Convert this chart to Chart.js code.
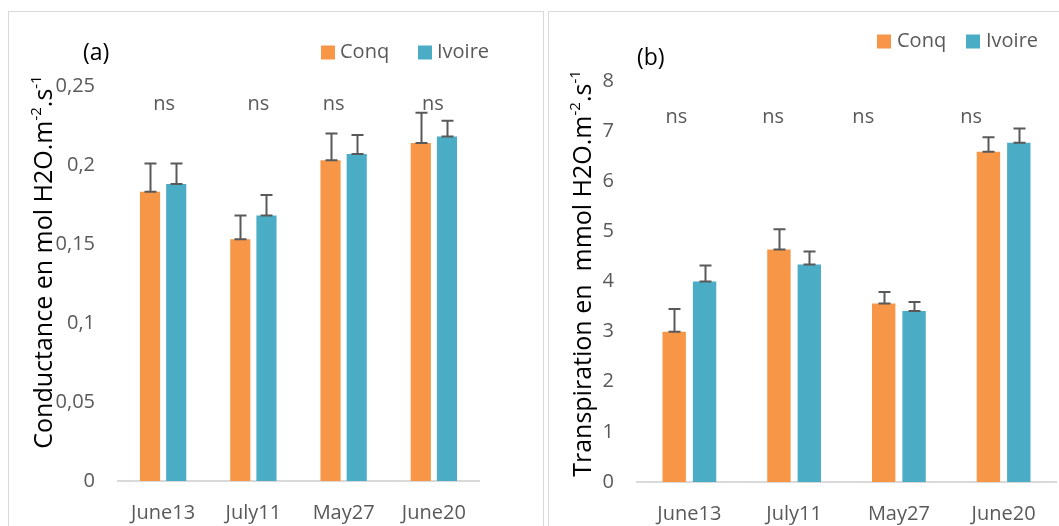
<!DOCTYPE html>
<html><head><meta charset="utf-8">
<script src="https://cdn.jsdelivr.net/npm/chart.js@4.4.1/dist/chart.umd.min.js"></script>
<style>
html,body{margin:0;padding:0;background:#fff;width:1059px;height:526px;overflow:hidden;}
#wrap{position:relative;width:1059px;height:526px;background:#fff;}
.panel{position:absolute;border:1px solid #d9d9d9;}
#pa{left:8px;top:11px;width:534px;height:600px;}
#pb{left:548px;top:11px;width:600px;height:600px;}
#ca{position:absolute;left:0;top:0;}
#cb{position:absolute;left:545px;top:0;}
</style></head><body>
<div id="wrap">
<div class="panel" id="pa"></div>
<div class="panel" id="pb"></div>
<canvas id="ca" width="545" height="526"></canvas>
<canvas id="cb" width="514" height="526"></canvas>
</div>
<script>
// ---- data ----
const categories = ['June13', 'July11', 'May27', 'June20'];
const seriesNames = ['Conq', 'Ivoire'];
const seriesColors = ['#F79646', '#4BACC6'];

const conductanceConq = [0.183, 0.153, 0.203, 0.214];
const conductanceIvoire = [0.188, 0.168, 0.207, 0.218];
const conductanceConqErr = [0.018, 0.015, 0.017, 0.019];
const conductanceIvoireErr = [0.013, 0.013, 0.012, 0.010];
const conductanceTicks = ['0', '0,05', '0,1', '0,15', '0,2', '0,25'];
const conductanceSignif = ['ns', 'ns', 'ns', 'ns'];

const transpirationConq = [3.00, 4.64, 3.56, 6.59];
const transpirationIvoire = [4.00, 4.34, 3.41, 6.77];
const transpirationConqErr = [0.45, 0.40, 0.23, 0.29];
const transpirationIvoireErr = [0.32, 0.26, 0.18, 0.28];
const transpirationTicks = ['0', '1', '2', '3', '4', '5', '6', '7', '8'];
const transpirationSignif = ['ns', 'ns', 'ns', 'ns'];

Chart.defaults.font.family = "'Open Sans', 'DejaVu Sans', sans-serif";
const GRAY = '#595959';

// ---- plugins ----
const decorPlugin = {
  id: 'decor',
  afterDatasetsDraw(chart, args, opts) {
    const ctx = chart.ctx;
    const ys = chart.scales.y;
    ctx.save();
    ctx.strokeStyle = GRAY;
    ctx.lineWidth = 2;
    chart.data.datasets.forEach((ds, i) => {
      const meta = chart.getDatasetMeta(i);
      meta.data.forEach((el, j) => {
        const v = ds.data[j], e = ds.errors[j];
        const y0 = ys.getPixelForValue(v), y1 = ys.getPixelForValue(v + e);
        const x = Math.round(el.x) + 0.5, hw = 6;
        ctx.beginPath();
        ctx.moveTo(x, y0); ctx.lineTo(x, y1);
        ctx.moveTo(x - hw, y1); ctx.lineTo(x + hw, y1);
        ctx.moveTo(x - hw, y0); ctx.lineTo(x + hw, y0);
        ctx.stroke();
      });
    });
    ctx.restore();
  },
  afterDraw(chart, args, opts) {
    const ctx = chart.ctx;
    const xs = chart.scales.x, ys = chart.scales.y;
    ctx.save();
    ctx.font = "20px 'Open Sans'";
    ctx.fillStyle = GRAY;
    ctx.textAlign = 'center';
    ctx.textBaseline = 'middle';
    const cw = xs.width / categories.length;
    opts.signif.forEach((s, j) => {
      const x = xs.getPixelForValue(j) + opts.signifOffset[j] * cw;
      ctx.fillText(s, x, ys.getPixelForValue(opts.signifY));
    });
    ctx.textAlign = 'left';
    chart.data.datasets.forEach((ds, i) => {
      const L = opts.legend[i];
      ctx.fillStyle = ds.backgroundColor;
      ctx.fillRect(L.sx, opts.legendY - 7, 14, 14);
      ctx.fillStyle = GRAY;
      ctx.fillText(ds.label, L.tx, opts.legendY);
    });
    ctx.fillStyle = '#000';
    ctx.font = "23px 'Open Sans'";
    ctx.fillText(opts.letter.text, opts.letter.x, opts.letter.y);
    ctx.translate(opts.ytitle.x, opts.ytitle.y);
    ctx.rotate(-Math.PI / 2);
    ctx.textBaseline = 'alphabetic';
    const big = "25px 'Open Sans'", small = "15px 'Open Sans'";
    let total = 0;
    opts.ytitle.parts.forEach(p => { ctx.font = p.sup ? small : big; total += ctx.measureText(p.t).width; });
    let cx = -total / 2;
    opts.ytitle.parts.forEach(p => {
      ctx.font = p.sup ? small : big;
      ctx.fillText(p.t, cx, p.sup ? -11 : 0);
      cx += ctx.measureText(p.t).width;
    });
    ctx.restore();
  }
};

function makeChart(canvasId, d1, e1, d2, e2, yMax, yStep, tickLabels, pad, yWidth, xHeight, decor) {
  return new Chart(document.getElementById(canvasId), {
    type: 'bar',
    data: {
      labels: categories,
      datasets: [
        { label: seriesNames[0], data: d1, errors: e1, backgroundColor: seriesColors[0] },
        { label: seriesNames[1], data: d2, errors: e2, backgroundColor: seriesColors[1] }
      ]
    },
    options: {
      responsive: false,
      animation: false,
      devicePixelRatio: 1,
      categoryPercentage: 0.58,
      barPercentage: 0.77,
      layout: { padding: pad },
      plugins: { legend: { display: false }, tooltip: { enabled: false }, decor: decor },
      scales: {
        x: {
          grid: { display: false, drawTicks: false },
          border: { display: true, color: '#d9d9d9', width: 2 },
          ticks: { color: GRAY, font: { size: 20 }, padding: 20 },
          afterFit(s) { s.height = xHeight; }
        },
        y: {
          min: 0, max: yMax,
          grid: { display: false, drawTicks: false },
          border: { display: false },
          ticks: {
            stepSize: yStep, color: GRAY, font: { size: 20 }, padding: 23,
            callback: (v, i) => tickLabels[i]
          },
          afterFit(s) { s.width = yWidth; }
        }
      }
    },
    plugins: [decorPlugin]
  });
}

makeChart('ca', conductanceConq, conductanceConqErr, conductanceIvoire, conductanceIvoireErr,
  0.25, 0.05, conductanceTicks, { top: 86, right: 66, left: 0, bottom: 0 }, 118, 45, {
    signif: conductanceSignif, signifOffset: [0.01, 0.055, -0.11, -0.01], signifY: 0.2386,
    legendY: 52.5, legend: [{ sx: 321, tx: 340 }, { sx: 418, tx: 437 }],
    letter: { text: '(a)', x: 83, y: 53 },
    ytitle: { x: 52, y: 262, parts: [{ t: 'Conductance en mol H2O.m' }, { t: '-2', sup: true }, { t: '.s' }, { t: '-1', sup: true }] }
  });

makeChart('cb', transpirationConq, transpirationConqErr, transpirationIvoire, transpirationIvoireErr,
  8, 1, transpirationTicks, { top: 81, right: 3, left: 0, bottom: 0 }, 92, 44, {
    signif: transpirationSignif, signifOffset: [-0.124, -0.2, -0.34, -0.31], signifY: 7.28,
    legendY: 41.5, legend: [{ sx: 332, tx: 352 }, { sx: 421, tx: 441 }],
    letter: { text: '(b)', x: 92, y: 58 },
    ytitle: { x: 46, y: 273.5, parts: [{ t: 'Transpiration en  mmol H2O.m' }, { t: '-2', sup: true }, { t: '.s' }, { t: '-1', sup: true }] }
  });
</script>
</body></html>
